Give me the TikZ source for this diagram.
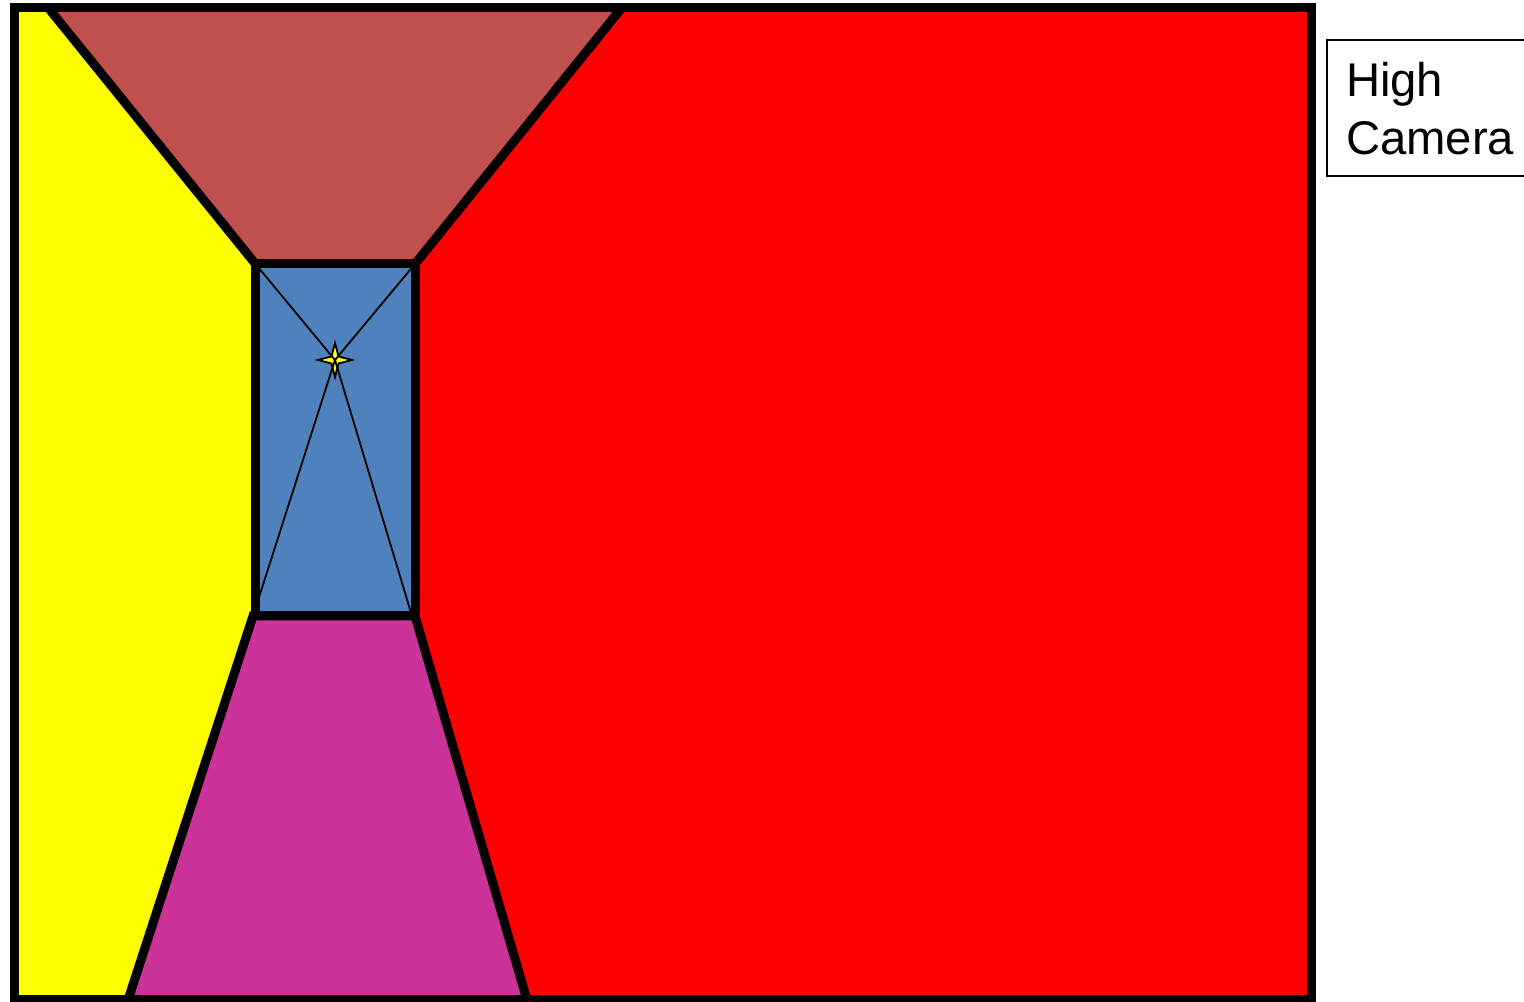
\documentclass[tikz,border=0pt]{standalone}
\usepackage{fontspec}
\setmainfont{Liberation Sans}
\definecolor{ceilingcol}{HTML}{C0504D}
\definecolor{backcol}{HTML}{4F81BD}
\definecolor{floorcol}{HTML}{CC3399}
\definecolor{leftcol}{RGB}{255,255,0}
\definecolor{rightcol}{RGB}{255,0,0}
\tikzset{
  wall/.style={draw=black, line width=0.09cm, line join=miter},
  ray/.style={draw=black, line width=0.018cm},
}
\begin{document}
\begin{tikzpicture}[font=\fontsize{13.45}{16.5}\selectfont]
  \useasboundingbox (0, 0) rectangle (15.24, 10.02);
  % Room corners, y counted from the bottom of the picture
  \coordinate (tl) at (0.145, 9.945);
  \coordinate (br) at (13.115, 0.02);
  \coordinate (bl) at (0.145, 0.02);
  \coordinate (tr) at (13.115, 9.945);
  \coordinate (backtl) at (2.555, 7.38);
  \coordinate (backtr) at (4.15, 7.38);
  \coordinate (backbr) at (4.15, 3.86);
  \coordinate (backbl) at (2.555, 3.86);
  \coordinate (floorbl) at (2.53, 3.86);
  \coordinate (raybr) at (4.12, 3.86);
  \coordinate (ceilleft) at (0.48, 9.945);
  \coordinate (ceilright) at (6.22, 9.945);
  \coordinate (floorleft) at (1.28, 0.02);
  \coordinate (floorright) at (5.27, 0.02);
  \coordinate (vanish) at (3.35, 6.42);
  % Side walls first, the ceiling and floor go over them
  \fill[rightcol] (tl) rectangle (br);
  \fill[leftcol] (tl) -- (ceilleft) -- (backtl) -- (backbl) -- (floorleft) -- (bl) -- cycle;
  \path[wall, fill=ceilingcol] (ceilleft) -- (backtl) -- (backtr) -- (ceilright);
  \path[wall, fill=floorcol] (floorleft) -- (floorbl) -- (backbr) -- (floorright);
  \path[wall, fill=backcol] (backtl) rectangle (backbr);
  \draw[wall] (tl) rectangle (br);
  % Four-pointed star on the vanishing point
  \draw[ray, fill=leftcol, line join=miter] (3.35, 6.59) -- (3.385, 6.455) -- (3.52, 6.42) -- (3.385, 6.385)
    -- (3.35, 6.25) -- (3.315, 6.385) -- (3.18, 6.42) -- (3.315, 6.455) -- cycle;
  % Lines running into the vanishing point, over the star
  \draw[ray] (backtl) -- (vanish);
  \draw[ray] (backtr) -- (vanish);
  \draw[ray] (floorbl) -- (vanish);
  \draw[ray] (raybr) -- (vanish);
  % Label runs off the right edge of the picture
  \node[draw, line width=0.02cm, anchor=north west, align=left, text width=2.0cm, minimum height=1.36cm,
    inner xsep=0.19cm, inner ysep=0pt] (label) at (13.26, 9.63) {\rule{0pt}{10.2pt}High\\Camera};
\end{tikzpicture}
\end{document}
